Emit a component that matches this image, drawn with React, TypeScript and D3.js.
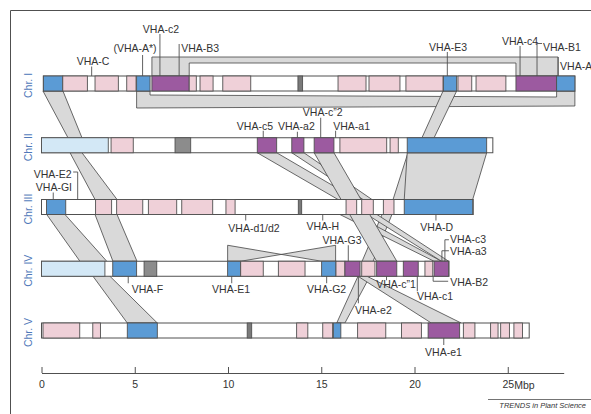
import { useEffect, useRef } from "react";
import * as d3 from "d3";

// chromosome names and extents (Mbp)
const chromosomes = ["Chr. I", "Chr. II", "Chr. III", "Chr. IV", "Chr. V"];
const chrStart = [0.1, 0, 0, 0, 0];
const chrEnd = [28.6, 24.2, 23.15, 21.85, 26.15];

// blocks: [start, end, kind]  B blue, L light blue, P pink, V violet, G grey, D dark band
const chrIBlocks = [
  [0.1, 1.14, "B"], [1.14, 2.46, "P"], [2.87, 4.12, "P"], [4.57, 5.07, "P"],
  [5.1, 5.82, "B"], [5.92, 7.92, "V"], [7.92, 8.3, "P"], [8.5, 9.2, "P"],
  [9.72, 11.22, "P"], [13.75, 14.0, "D"], [15.9, 17.4, "P"], [17.56, 19.22, "P"],
  [19.54, 21.53, "P"], [21.55, 22.26, "B"], [22.33, 23.07, "P"], [23.3, 24.9, "P"],
  [25.44, 27.62, "V"], [27.62, 28.6, "B"],
];
const chrIIBlocks = [
  [0, 3.58, "L"], [3.73, 4.92, "P"], [7.16, 8.0, "G"], [11.57, 12.61, "V"],
  [13.42, 14.07, "V"], [14.62, 15.68, "V"], [16.0, 18.51, "P"], [18.69, 19.13, "P"],
  [19.61, 23.87, "B"],
];
const chrIIIBlocks = [
  [0.27, 1.3, "B"], [2.9, 3.76, "P"], [4.03, 5.43, "P"], [5.73, 7.25, "P"],
  [7.52, 9.18, "P"], [9.89, 10.38, "P"], [13.77, 13.95, "D"], [16.33, 16.9, "P"],
  [17.17, 17.79, "P"], [18.33, 18.9, "P"], [19.45, 23.12, "B"],
];
const chrIVBlocks = [
  [0, 3.4, "L"], [3.82, 5.1, "B"], [5.5, 6.18, "G"], [9.98, 10.68, "B"],
  [10.68, 11.89, "P"], [12.7, 14.13, "P"], [15.02, 15.79, "B"], [15.79, 16.27, "P"],
  [16.27, 17.08, "V"], [17.17, 17.88, "P"], [17.97, 19.05, "V"], [19.4, 20.2, "V"],
  [20.56, 20.98, "P"], [21.05, 21.83, "V"],
];
const chrVBlocks = [
  [0.08, 2.05, "P"], [2.75, 3.16, "P"], [4.6, 6.21, "B"], [11.03, 11.27, "D"],
  [13.68, 14.28, "P"], [15.08, 15.61, "P"], [15.65, 16.05, "B"], [16.95, 18.46, "P"],
  [19.3, 20.37, "P"], [20.73, 22.42, "V"], [22.62, 23.24, "P"], [24.08, 24.48, "P"],
  [24.62, 25.09, "P"], [25.33, 25.79, "P"],
];
const allBlocks = [chrIBlocks, chrIIBlocks, chrIIIBlocks, chrIVBlocks, chrVBlocks];

// duplicated segments between chromosomes: stops [chr, side, from, to]
const ribbons = [
  [[0, "b", 0.08, 1.15], [1, "t", 1.42, 2.17], [1, "b", 1.53, 2.17], [2, "t", 2.87, 4.05], [2, "b", 2.87, 4.05], [3, "t", 3.83, 5.12]],
  [[2, "b", 0.28, 1.26], [3, "t", 2.06, 3.5], [3, "b", 2.76, 3.67], [4, "t", 4.6, 6.21]],
  [[0, "b", 21.53, 22.26], [1, "t", 20.4, 21.05], [1, "b", 19.65, 20.4], [2, "t", 18.85, 19.5], [2, "b", 18.26, 18.79], [3, "t", 17.19, 17.78], [3, "b", 16.97, 17.61], [4, "t", 15.83, 16.27]],
  [[1, "b", 11.57, 12.61], [2, "t", 15.9, 16.9], [2, "b", 16.0, 16.8], [3, "t", 21.05, 21.45]],
  [[1, "b", 13.42, 14.07], [2, "t", 17.24, 17.72], [2, "b", 17.45, 17.99], [3, "t", 21.45, 21.83]],
  [[1, "b", 14.62, 15.68], [3, "t", 17.97, 19.05]],
  [[1, "b", 19.61, 23.87], [2, "t", 19.45, 23.12]],
  [[3, "b", 16.97, 17.45], [4, "t", 20.9, 22.5]],
];

// intra-chromosomal duplications on Chr. I and the inversion on Chr. IV
const loopAbove = [5.92, 7.92, 25.44, 27.7];
const loopBelow = [5.1, 5.82, 27.62, 28.6];
const inversion = [9.98, 10.68, 15.02, 15.77];

// gene labels: name, chr, Mbp, side
const genes = [
  ["VHA-C", 0, 2.69, "t"], ["(VHA-A*)", 0, 5.42, "t"], ["VHA-c2", 0, 6.35, "t"],
  ["VHA-B3", 0, 7.38, "t"], ["VHA-E3", 0, 21.76, "t"], ["VHA-c4", 0, 25.66, "t"],
  ["VHA-B1", 0, 26.57, "t"], ["VHA-A", 0, 27.7, "t"],
  ["VHA-c5", 1, 11.89, "t"], ["VHA-a2", 1, 13.72, "t"], ["VHA-c\u201D2", 1, 14.97, "t"],
  ["VHA-a1", 1, 15.77, "t"],
  ["VHA-E2", 2, 1.94, "t"], ["VHA-GI", 2, 0.63, "t"], ["VHA-d1/d2", 2, 10.95, "b"],
  ["VHA-H", 2, 15.08, "b"], ["VHA-D", 2, 21.15, "b"],
  ["VHA-G3", 3, 16.45, "t"], ["VHA-c3", 3, 21.63, "t"], ["VHA-a3", 3, 21.47, "t"],
  ["VHA-B2", 3, 21.0, "b"], ["VHA-c\u201D1", 3, 18.5, "b"], ["VHA-c1", 3, 20.15, "b"],
  ["VHA-G2", 3, 15.29, "b"], ["VHA-E1", 3, 10.2, "b"], ["VHA-F", 3, 4.65, "b"],
  ["VHA-e2", 3, 16.99, "b"],
  ["VHA-e1", 4, 21.57, "b"],
];

// label placement: text dx, baseline offset from bar edge, stem length, anchor, stub
const labelLayout = {
  "VHA-C": [1.3, 11.5, 9.5, "middle", 0],
  "(VHA-A*)": [-7.6, 24.5, 21, "middle", 0],
  "VHA-c2": [1, 43.5, 42, "middle", 0],
  "VHA-B3": [2, 24.5, 32, "start", 0],
  "VHA-E3": [0.7, 25.5, 24, "middle", 0],
  "VHA-c4": [0, 31.5, 30, "middle", 0],
  "VHA-B1": [6, 25.5, 32.5, "start", 5],
  "VHA-A": [2, 6.5, 19, "start", 0],
  "VHA-c5": [-8.3, 8, 7, "middle", 0],
  "VHA-a2": [-1, 8, 6, "middle", 0],
  "VHA-c\u201D2": [2, 21.5, 20, "middle", 0],
  "VHA-a1": [16, 8, 7, "middle", 0],
  "VHA-E2": [-6, 22, 27.5, "end", -4.5],
  "VHA-GI": [0.7, 8.5, 7, "middle", 0],
  "VHA-d1/d2": [8.3, 17.5, 6, "middle", 0],
  "VHA-H": [0, 15.5, 6, "middle", 0],
  "VHA-D": [0.7, 16.5, 6, "middle", 0],
  "VHA-G3": [-6.3, 17.5, 16, "middle", 0],
  "VHA-c3": [5, 18, 21.5, "start", 4],
  "VHA-a3": [8, 6.5, 10.5, "start", 7],
  "VHA-B2": [17, 9.5, 5, "start", 15],
  "VHA-c\u201D1": [9.5, 12, 4, "middle", 0],
  "VHA-c1": [17.7, 24, 15, "middle", 0],
  "VHA-G2": [0, 17, 7, "middle", 0],
  "VHA-E1": [-0.7, 17, 7, "middle", 0],
  "VHA-F": [3.5, 17, 7, "start", 0],
  "VHA-e2": [-3.4, 37.5, 27, "start", 0],
  "VHA-e1": [-0.3, 18, 7, "middle", 0],
};

const axisTicks = [0, 5, 10, 15, 20, 25];

const colors = {
  B: "#5b9bd5",
  L: "#d3e8f6",
  P: "#efd0d8",
  V: "#9c5aa0",
  G: "#8c8c8c",
  D: "#7a7a7a",
};

const App = () => {
  const ref = useRef(null);

  useEffect(() => {
    const svg = d3.select(ref.current);
    svg.selectAll("*").remove();

    const font = "'Liberation Sans', Arial, sans-serif";
    const line = "#505050";
    const barH = 15;

    const x = d3.scaleLinear().domain([0, 28]).range([41.5, 563.7]);
    const y = d3.scalePoint().domain(chromosomes).range([76, 323]);
    const top = (i) => y(chromosomes[i]);
    const bot = (i) => y(chromosomes[i]) + barH;

    // frame
    svg.append("path")
      .attr("d", "M10.5,414V10.5H591")
      .attr("fill", "none")
      .attr("stroke", line)
      .attr("stroke-width", 1);

    const links = svg.append("g")
      .attr("fill", "#d9d9d9")
      .attr("stroke", "#454545")
      .attr("stroke-width", 0.8)
      .attr("stroke-linejoin", "round");

    // intra-chromosome loops on Chr. I
    const t0 = top(0), b0 = bot(0);
    const [ua0, ua1, ub0, ub1] = loopAbove;
    links.append("path").attr("d",
      `M${x(ua0)},${t0}V${t0 - 19}H${x(ub1)}V${t0}H${x(ub0)}V${t0 - 13}H${x(ua1)}V${t0}Z`);
    const [la0, la1, lb0, lb1] = loopBelow;
    links.append("path").attr("d",
      `M${x(la0)},${b0}L${x(la0)},${b0 + 17}L${x(lb1)},${b0 + 15}L${x(lb1)},${b0}` +
      `L${x(lb0)},${b0}L${x(lb0)},${b0 + 6}L${x(la1)},${b0 + 4}L${x(la1)},${b0}Z`);

    // ribbons between chromosomes
    const yOf = (c, s) => (s === "t" ? top(c) : bot(c));
    ribbons.forEach((stops) => {
      const left = stops.map(([c, s, a]) => [x(a), yOf(c, s)]);
      const right = stops.map(([c, s, , b]) => [x(b), yOf(c, s)]).reverse();
      links.append("path").attr("d", d3.line()([...left, ...right]) + "Z");
    });

    // inversion on Chr. IV (twisted ribbon)
    const t3 = top(3);
    const [i0, i1, j0, j1] = inversion;
    links.append("path")
      .attr("fill-rule", "evenodd")
      .attr("d", `M${x(i0)},${t3}V${t3 - 16}L${x(j0)},${t3}H${x(j1)}V${t3 - 16}L${x(i1)},${t3}Z`);

    // chromosomes
    const chr = svg.append("g");
    chromosomes.forEach((name, i) => {
      const g = chr.append("g");
      g.append("rect")
        .attr("x", x(chrStart[i]))
        .attr("y", top(i))
        .attr("width", x(chrEnd[i]) - x(chrStart[i]))
        .attr("height", barH)
        .attr("fill", "#fff")
        .attr("stroke", line)
        .attr("stroke-width", 1);
      g.selectAll(".blk")
        .data(allBlocks[i])
        .enter().append("rect")
        .attr("x", (d) => x(d[0]))
        .attr("y", top(i))
        .attr("width", (d) => x(d[1]) - x(d[0]))
        .attr("height", barH)
        .attr("fill", (d) => colors[d[2]])
        .attr("stroke", line)
        .attr("stroke-width", 0.9);

      svg.append("text")
        .attr("transform", `translate(32,${top(i) + barH / 2 + 2}) rotate(-90)`)
        .attr("text-anchor", "middle")
        .attr("font-family", font)
        .attr("font-size", 10.5)
        .attr("fill", "#4f78b9")
        .text(name);
    });

    // gene labels
    const lab = svg.append("g").attr("font-family", font).attr("font-size", 10.5).attr("fill", "#333");
    genes.forEach(([name, c, mb, side]) => {
      const [dx, dy, stem, anchor, stub] = labelLayout[name];
      const px = x(mb);
      const edge = side === "t" ? top(c) : bot(c);
      const dir = side === "t" ? -1 : 1;
      const end = edge + dir * stem;
      let d = `M${px},${edge}V${end}`;
      if (stub) d += `H${px + stub}`;
      lab.append("path")
        .attr("d", d)
        .attr("fill", "none")
        .attr("stroke", line)
        .attr("stroke-width", 0.9);
      lab.append("text")
        .attr("x", px + dx)
        .attr("y", edge + dir * dy)
        .attr("text-anchor", anchor)
        .text(name);
    });

    // axis
    const axisY = 373;
    const ax = svg.append("g")
      .attr("transform", `translate(0,${axisY})`)
      .call(d3.axisBottom(x).tickValues(axisTicks).tickSizeInner(-6).tickSizeOuter(0).tickPadding(8));
    ax.select(".domain").attr("stroke", line);
    ax.selectAll(".tick line").attr("stroke", line);
    ax.selectAll(".tick text")
      .attr("font-family", font)
      .attr("font-size", 10.5)
      .attr("fill", "#333");
    svg.append("text")
      .attr("x", x(25) + 6.5)
      .attr("y", axisY + 15.5)
      .attr("font-family", font)
      .attr("font-size", 10.5)
      .attr("fill", "#333")
      .text("Mbp");

    // footer
    svg.append("line")
      .attr("x1", 488).attr("x2", 591)
      .attr("y1", 399.5).attr("y2", 399.5)
      .attr("stroke", line)
      .attr("stroke-width", 0.8);
    svg.append("text")
      .attr("x", 586)
      .attr("y", 408)
      .attr("text-anchor", "end")
      .attr("font-family", font)
      .attr("font-size", 7.5)
      .attr("font-style", "italic")
      .attr("fill", "#333")
      .text("TRENDS in Plant Science");
  }, []);

  return (
    <svg
      ref={ref}
      width={591}
      height={414}
      style={{ position: "absolute", left: 0, top: 0, background: "#fff" }}
    />
  );
};

export default App;
